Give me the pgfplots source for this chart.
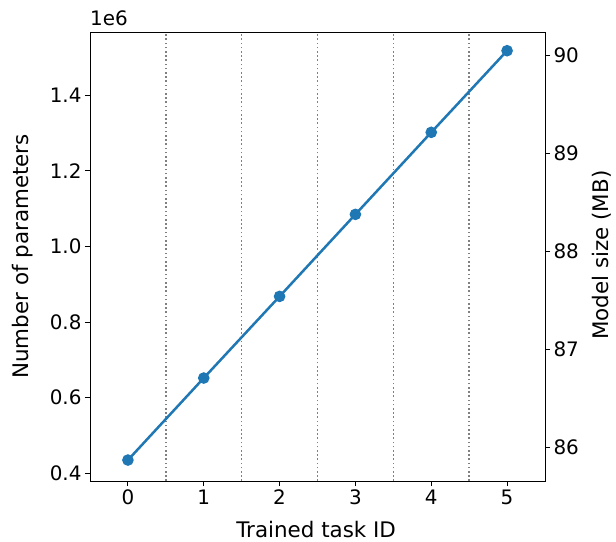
\documentclass[border=0pt]{standalone}
\usepackage{pgfplots}
\pgfplotsset{compat=1.18}
\usepackage{fontspec}
\setmainfont{DejaVu Sans}
\definecolor{mplblue}{HTML}{1F77B4}
\definecolor{mplgray}{HTML}{808080}
\begin{document}
\begin{tikzpicture}
\pgfplotsset{
  common/.style={
    at={(0,0)}, anchor=south west,
    width=455bp, height=449bp, scale only axis,
    xmin=-0.5, xmax=5.5,
    tick align=outside,
    major tick length=5bp,
    every tick/.style={black, line width=0.9bp},
    axis line style={line width=0.9bp},
    tick label style={font=\fontsize{20}{24}\selectfont},
    label style={font=\fontsize{21.5}{26}\selectfont, inner sep=0pt},
    /pgf/number format/assume math mode=true,
  }
}
\begin{axis}[common,
  ymin=0.3796, ymax=1.5675,
  xtick={0,1,2,3,4,5},
  ytick={0.4,0.6,0.8,1.0,1.2,1.4},
  yticklabel style={/pgf/number format/fixed, /pgf/number format/fixed zerofill, /pgf/number format/precision=1},
  xtick pos=bottom, ytick pos=left,
  scaled y ticks=false,
  xlabel={Trained task ID},
  ylabel={Number of parameters},
  x label style={at={(axis description cs:0.497,-0.109)}, anchor=center},
  y label style={at={(axis description cs:-0.149,0.5)}, anchor=center, rotate=0},
  clip=false,
]
\addplot[mplgray, line width=1.6bp, dash pattern=on 1.6bp off 2.6bp] coordinates {(0.5,0.3796) (0.5,1.5675)};
\addplot[mplgray, line width=1.6bp, dash pattern=on 1.6bp off 2.6bp] coordinates {(1.5,0.3796) (1.5,1.5675)};
\addplot[mplgray, line width=1.6bp, dash pattern=on 1.6bp off 2.6bp] coordinates {(2.5,0.3796) (2.5,1.5675)};
\addplot[mplgray, line width=1.6bp, dash pattern=on 1.6bp off 2.6bp] coordinates {(3.5,0.3796) (3.5,1.5675)};
\addplot[mplgray, line width=1.6bp, dash pattern=on 1.6bp off 2.6bp] coordinates {(4.5,0.3796) (4.5,1.5675)};
\addplot[mplblue, line width=2.5bp, mark=*, mark size=4.5bp, mark options={solid, fill=mplblue, draw=mplblue}]
  coordinates {(0,0.435) (1,0.652) (2,0.868) (3,1.085) (4,1.302) (5,1.518)};
\node[anchor=base west, inner sep=0, font=\fontsize{20}{24}\selectfont] at ([yshift=6bp]rel axis cs:0,1) {1e6};
\path[use as bounding box] ([xshift=-90bp,yshift=-61bp]rel axis cs:0,0) rectangle ([xshift=71bp,yshift=32bp]rel axis cs:1,1);
\end{axis}
\begin{axis}[common,
  ymin=85.661, ymax=90.234,
  axis y line*=right, axis x line=none,
  ytick={86,87,88,89,90},
  ylabel={Model size (MB)},
  y label style={at={(axis description cs:1.124,0.503)}, anchor=center, rotate=0},
]
\addplot[draw=none] coordinates {(0,85.875) (5,90.04)};
\end{axis}
\end{tikzpicture}
\end{document}
